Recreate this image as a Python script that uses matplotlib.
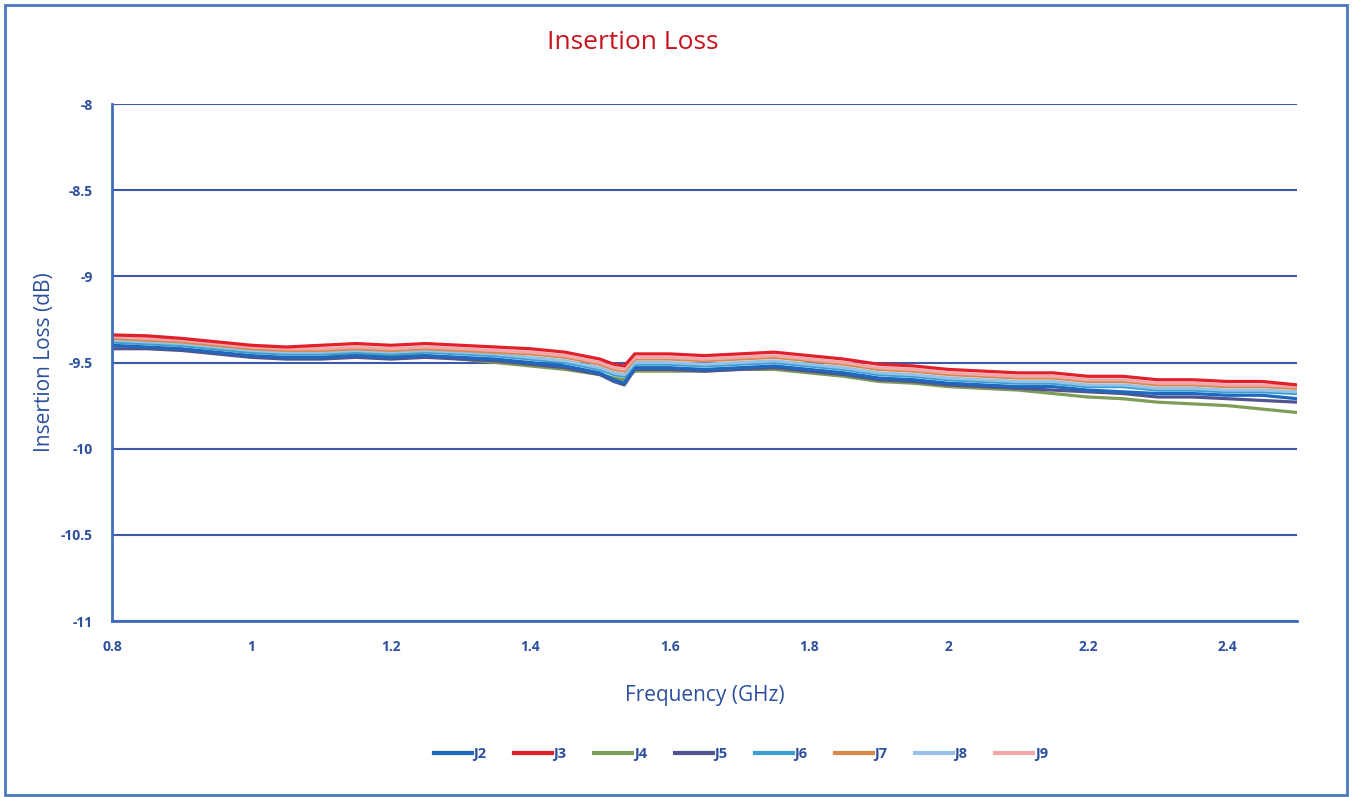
import matplotlib.pyplot as plt
from matplotlib.patches import Rectangle

plt.rcParams['font.family'] = ['Open Sans', 'DejaVu Sans']

# frequency points (GHz)
freq = [0.80, 0.85, 0.90, 0.95, 1.00, 1.05, 1.10, 1.15, 1.20, 1.25, 1.30, 1.35, 1.40, 1.45, 1.50, 1.52, 1.535,
        1.55, 1.60, 1.65, 1.70, 1.75, 1.80, 1.85, 1.90, 1.95, 2.00, 2.05, 2.10, 2.15, 2.20, 2.25, 2.30, 2.35, 2.40, 2.45, 2.50]

J2 = [-9.40, -9.41, -9.42, -9.44, -9.46, -9.47, -9.47, -9.46, -9.47, -9.46, -9.47, -9.48, -9.50, -9.52, -9.56, -9.60, -9.62,
      -9.53, -9.53, -9.54, -9.53, -9.52, -9.54, -9.56, -9.59, -9.60, -9.62, -9.63, -9.64, -9.64, -9.66, -9.67, -9.68, -9.68, -9.69, -9.69, -9.71]
J3 = [-9.34, -9.345, -9.36, -9.38, -9.40, -9.41, -9.40, -9.39, -9.40, -9.39, -9.40, -9.41, -9.42, -9.44, -9.48, -9.51, -9.52,
      -9.45, -9.45, -9.46, -9.45, -9.44, -9.46, -9.48, -9.51, -9.52, -9.54, -9.55, -9.56, -9.56, -9.58, -9.58, -9.60, -9.60, -9.61, -9.61, -9.63]
J4 = [-9.38, -9.39, -9.40, -9.42, -9.44, -9.45, -9.45, -9.45, -9.46, -9.46, -9.48, -9.50, -9.52, -9.54, -9.57, -9.59, -9.60,
      -9.55, -9.55, -9.55, -9.54, -9.54, -9.56, -9.58, -9.61, -9.62, -9.64, -9.65, -9.66, -9.68, -9.70, -9.71, -9.73, -9.74, -9.75, -9.77, -9.79]
J5 = [-9.42, -9.42, -9.43, -9.45, -9.47, -9.48, -9.48, -9.47, -9.48, -9.47, -9.48, -9.49, -9.51, -9.53, -9.57, -9.61, -9.63,
      -9.54, -9.54, -9.55, -9.54, -9.53, -9.55, -9.57, -9.60, -9.61, -9.63, -9.64, -9.65, -9.66, -9.67, -9.68, -9.70, -9.70, -9.71, -9.72, -9.73]
J6 = [-9.38, -9.39, -9.40, -9.42, -9.44, -9.45, -9.45, -9.44, -9.45, -9.44, -9.45, -9.46, -9.48, -9.50, -9.54, -9.57, -9.58,
      -9.51, -9.51, -9.52, -9.51, -9.50, -9.52, -9.54, -9.57, -9.58, -9.60, -9.61, -9.62, -9.62, -9.64, -9.64, -9.66, -9.66, -9.67, -9.67, -9.68]
J7 = [-9.36, -9.37, -9.38, -9.40, -9.42, -9.43, -9.43, -9.42, -9.43, -9.42, -9.43, -9.44, -9.45, -9.47, -9.51, -9.54, -9.55,
      -9.48, -9.48, -9.49, -9.48, -9.47, -9.49, -9.51, -9.54, -9.55, -9.57, -9.58, -9.59, -9.59, -9.61, -9.61, -9.63, -9.63, -9.64, -9.64, -9.65]
J8 = [-9.37, -9.38, -9.39, -9.41, -9.43, -9.44, -9.44, -9.43, -9.44, -9.43, -9.44, -9.45, -9.47, -9.49, -9.53, -9.56, -9.57,
      -9.50, -9.50, -9.51, -9.50, -9.49, -9.51, -9.53, -9.56, -9.57, -9.59, -9.60, -9.61, -9.61, -9.63, -9.63, -9.65, -9.65, -9.66, -9.66, -9.67]
J9 = [-9.35, -9.36, -9.37, -9.39, -9.41, -9.42, -9.42, -9.41, -9.42, -9.41, -9.42, -9.43, -9.44, -9.46, -9.50, -9.53, -9.54,
      -9.47, -9.47, -9.48, -9.47, -9.46, -9.48, -9.50, -9.53, -9.54, -9.56, -9.57, -9.58, -9.58, -9.60, -9.60, -9.62, -9.62, -9.63, -9.63, -9.64]

series_names = ["J2", "J3", "J4", "J5", "J6", "J7", "J8", "J9"]
series_data = [J2, J3, J4, J5, J6, J7, J8, J9]
colors = ["#1f68bf", "#e0202a", "#7f9d58", "#4f5590", "#3a9fd2", "#d8894a", "#96c2e8", "#f2a7ad"]
# draw order: bottom curves first, red last on top
draw_order = [2, 3, 0, 4, 6, 5, 7, 1]

y_ticks = [-11, -10.5, -10, -9.5, -9, -8.5, -8]
x_ticks = [0.8, 1, 1.2, 1.4, 1.6, 1.8, 2, 2.2, 2.4]

text_blue = "#2c4f9e"
grid_blue = "#3c5aa8"

fig = plt.figure(figsize=(13.52, 7.97), dpi=100)
ax = fig.add_axes([0.0828, 0.2208, 0.8765, 0.6487])

lines = {}
for i in draw_order:
    ln, = ax.plot(freq, series_data[i], color=colors[i], lw=2.3, label=series_names[i])
    lines[i] = ln

ax.set_xlim(0.8, 2.5)
ax.set_ylim(-11, -8)
ax.set_yticks(y_ticks)
ax.set_yticklabels([f"{v:g}" for v in y_ticks])
ax.set_xticks(x_ticks)
ax.set_xticklabels([f"{v:g}" for v in x_ticks])
ax.tick_params(length=0, colors=text_blue, labelsize=10)
ax.tick_params(axis='x', pad=14)
ax.tick_params(axis='y', pad=14)
for lbl in ax.get_xticklabels() + ax.get_yticklabels():
    lbl.set_fontweight('bold')

ax.grid(axis='y', color=grid_blue, lw=1.5)
ax.set_axisbelow(True)
for side in ['top', 'right']:
    ax.spines[side].set_visible(False)
for side in ['left', 'bottom']:
    ax.spines[side].set_color("#3f6cc0")
    ax.spines[side].set_linewidth(2)

ax.set_xlabel("Frequency (GHz)", color=text_blue, fontsize=15, labelpad=22)
ax.set_ylabel("Insertion Loss (dB)", color=text_blue, fontsize=15, labelpad=4)

fig.text(0.468, 0.947, "Insertion Loss", color="#c8141c", fontsize=19, ha='center', va='center')

handles = [lines[i] for i in range(8)]
leg = fig.legend(handles, series_names, loc='center', bbox_to_anchor=(0.548, 0.054), ncol=8,
                 frameon=False, handlelength=2.6, columnspacing=1.9, handletextpad=0.1, fontsize=10.5)
for t in leg.get_texts():
    t.set_color(text_blue)
    t.set_fontweight('bold')
for h in leg.legend_handles:
    h.set_linewidth(3)

# outer chart border
fig.patches.append(Rectangle((0.004, 0.003), 0.992, 0.991, transform=fig.transFigure,
                             fill=False, edgecolor="#4a78c0", lw=2))

fig.savefig("out.png", dpi=100)
